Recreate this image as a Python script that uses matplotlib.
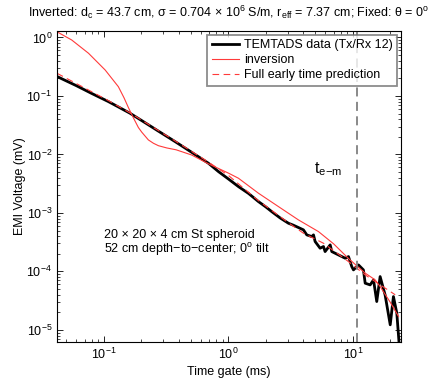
import numpy as np
import matplotlib
matplotlib.use("Agg")
import matplotlib.pyplot as plt
from matplotlib.ticker import LogLocator, NullFormatter

plt.rcParams['font.family'] = ['Liberation Sans', 'DejaVu Sans']
plt.rcParams['mathtext.fontset'] = 'custom'
plt.rcParams['mathtext.rm'] = 'Liberation Sans'
plt.rcParams['mathtext.it'] = 'Liberation Sans'
plt.rcParams['mathtext.bf'] = 'Liberation Sans'

# TEMTADS measured data (Tx/Rx 12)
data_t = [0.0420, 0.0600, 0.0800, 0.1087, 0.130, 0.162, 0.200, 0.270, 0.373, 0.500,
          0.690, 0.832, 1.0, 1.202, 1.45, 1.742, 2.0, 2.228, 2.6, 3.034, 3.3, 3.648, 4.0, 4.256,
          4.667, 4.819, 4.966, 5.445, 5.794, 5.970, 6.561, 6.761, 7.656, 8.650,
          9.204, 9.772, 10.09, 11.07, 12.13, 12.53, 13.74, 14.62, 15.52, 16.52,
          18.11, 19.91, 21.13, 22.49, 23.6]
data_v = [0.215, 0.150, 0.110, 0.0800, 0.0652, 0.0506, 0.0382, 0.0255, 0.01656, 0.01107,
          0.00708, 0.00508, 0.00380, 0.00282, 0.00215, 0.00156, 0.00126, 0.00105, 8.2e-4, 6.65e-4, 6.2e-4,
          5.62e-4, 5.13e-4, 4.21e-4,
          3.94e-4, 4.21e-4, 3.24e-4, 2.49e-4, 2.66e-4, 2.18e-4, 2.84e-4, 2.18e-4, 1.91e-4, 1.68e-4,
          1.79e-4, 1.21e-4, 1.06e-4, 1.29e-4, 1.06e-4, 6.28e-5, 5.87e-5, 7.16e-5, 3.05e-5, 8.15e-5,
          3.96e-5, 1.22e-5, 3.71e-5, 1.93e-5, 5.0e-6]

# Inversion fit
inv_t = [0.0420, 0.0551, 0.0752, 0.1023, 0.1306, 0.145, 0.1574, 0.172, 0.1892, 0.2014,
         0.2275, 0.25, 0.274, 0.32, 0.380, 0.507, 0.690, 0.832, 1.0, 1.202,
         1.742, 2.523, 3.648, 5.284, 7.0, 9.204, 12.53, 15.07, 16.52, 19.95, 23.2]
inv_v = [1.25, 0.906, 0.537, 0.278, 0.144, 0.093, 0.063, 0.0427, 0.0288, 0.0240,
         0.0177, 0.0155, 0.0141, 0.0129, 0.0120, 0.00977, 0.00692, 0.00575, 0.00479, 0.00392,
         0.00217, 0.00128, 7.59e-4, 4.79e-4, 2.95e-4, 1.66e-4, 9.33e-5, 7.16e-5, 5.5e-5, 2.95e-5, 1.7e-5]

# Full early time prediction
early_t = [0.042, 0.1087, 0.162, 0.373, 0.690, 1.0, 1.742, 3.034, 4.0, 5.794, 9.204, 12.53, 21.83]
early_v = [0.244, 0.0832, 0.0513, 0.0170, 0.00741, 0.00437, 0.00162, 6.76e-4, 4.50e-4, 3.03e-4,
           1.47e-4, 8.71e-5, 3.98e-5]

t_em = 10.8

fig = plt.figure(figsize=(4.43, 3.85), dpi=100)
ax = fig.add_axes([57/443, 1-342/385, (401-57)/443, (342-31)/385])

ax.plot(data_t, data_v, color='black', lw=2.0, label='TEMTADS data (Tx/Rx 12)')
ax.plot(inv_t, inv_v, color='#ff3a3a', lw=0.8, label='inversion')
ax.plot(early_t, early_v, color='#ff3a3a', lw=0.8, ls=(0, (6, 4)), label='Full early time prediction')
ax.axvline(t_em, color='#808080', lw=1.3, ls=(0, (5, 3)))

ax.set_xscale('log')
ax.set_yscale('log')
ax.set_xlim(0.042, 24.3)
ax.set_ylim(6.2e-6, 1.29)

ax.xaxis.set_major_locator(LogLocator(base=10, numticks=10))
ax.yaxis.set_major_locator(LogLocator(base=10, numticks=10))
ax.xaxis.set_minor_locator(LogLocator(base=10, subs=np.arange(2, 10), numticks=20))
ax.yaxis.set_minor_locator(LogLocator(base=10, subs=np.arange(2, 10), numticks=20))
ax.xaxis.set_minor_formatter(NullFormatter())
ax.yaxis.set_minor_formatter(NullFormatter())
ax.tick_params(which='both', direction='in', top=True, right=True, labelsize=9)
ax.tick_params(which='major', length=4, width=0.6)
ax.tick_params(which='minor', length=2, width=0.5)
for s in ax.spines.values():
    s.set_linewidth(0.8)

ax.set_xlabel('Time gate (ms)', fontsize=9, labelpad=3)
ax.set_ylabel('EMI Voltage (mV)', fontsize=9, labelpad=0)
ax.set_title(r'Inverted: d$_{\rm c}$ = 43.7 cm, σ = 0.704 × 10$^{6}$ S/m, r$_{\rm eff}$ = 7.37 cm; Fixed: θ = 0$^{\rm o}$',
             fontsize=9, pad=10)

leg = ax.legend(loc='upper right', fontsize=9, frameon=True, fancybox=False,
                borderaxespad=0.3, handlelength=2.2, handletextpad=0.4,
                borderpad=0.35, labelspacing=0.25)
leg.get_frame().set_edgecolor('#707070')
leg.get_frame().set_linewidth(1.3)

ax.text(4.82, 0.00483, r't$_{\rm e\!-\!m}$', fontsize=11.5, ha='left', va='baseline')
ax.text(0.1, 4.2e-4, '20 × 20 × 4 cm St spheroid', fontsize=9, ha='left', va='center')
ax.text(0.1, 2.33e-4, '52 cm depth−to−center; 0$^{\\rm o}$ tilt', fontsize=9, ha='left', va='center')

fig.savefig('out.png', dpi=100)
